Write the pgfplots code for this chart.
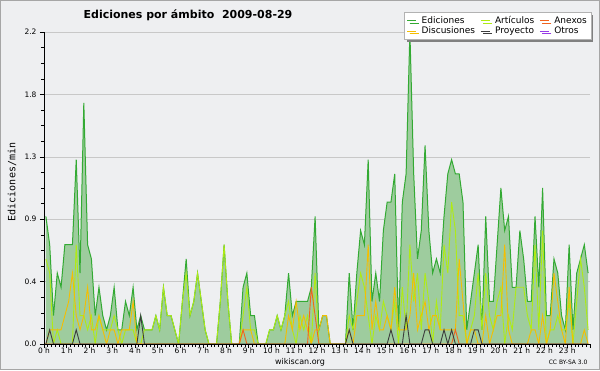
\documentclass[border=0pt]{standalone}
\usepackage{fontspec}
\setmainfont{DejaVu Sans}
\newfontfamily\monofont{DejaVu Sans Mono}
\usepackage{pgfplots}
\usepackage{pgfplotstable}
\pgfplotsset{compat=1.18}
\definecolor{bgc}{RGB}{238,239,241}
\definecolor{edline}{RGB}{51,170,51}
\definecolor{edfill}{RGB}{158,204,158}
\definecolor{artc}{RGB}{175,235,20}
\definecolor{disc}{RGB}{245,190,0}
\definecolor{anex}{RGB}{240,100,30}
\definecolor{proy}{RGB}{60,60,60}
\definecolor{otro}{RGB}{150,60,230}
\definecolor{gridc}{RGB}{200,200,200}
\pgfplotstableread{
i E A D N P O
0 0.9 0.6 0 0 0 0
1 0.7 0.5 0.1 0 0.1 0
2 0.2 0 0.1 0 0 0
3 0.5 0.1 0.1 0 0 0
4 0.4 0 0.1 0 0 0
5 0.7 0 0.2 0 0 0
6 0.7 0 0.3 0 0 0
7 0.7 0 0.5 0 0 0
8 1.3 0.7 0.2 0 0.1 0
9 0.5 0.2 0.1 0 0 0
10 1.7 0.2 0.2 0 0 0
11 0.7 0.1 0.4 0 0 0
12 0.6 0.2 0.1 0 0 0
13 0.2 0 0.1 0 0 0
14 0.4 0.2 0.2 0 0 0
15 0.2 0.1 0.1 0 0 0
16 0.1 0.1 0 0 0 0
17 0.2 0.1 0.1 0 0 0
18 0.4 0.2 0.1 0 0 0
19 0.1 0.1 0 0 0 0
20 0.1 0 0.1 0 0 0
21 0.3 0.1 0.1 0 0 0
22 0.2 0.1 0.1 0 0 0
23 0.4 0.1 0.3 0 0 0
24 0.1 0 0 0 0 0
25 0.2 0 0 0 0.2 0
26 0.1 0.1 0 0 0 0
27 0.1 0.1 0 0 0 0
28 0.1 0.1 0 0 0 0
29 0.2 0.2 0 0 0 0
30 0.1 0.1 0 0 0 0
31 0.4 0.4 0 0 0 0
32 0.2 0.2 0 0 0 0
33 0.2 0.2 0 0 0 0
34 0.1 0.1 0 0 0 0
35 0 0 0 0 0 0
36 0.3 0.3 0 0 0 0
37 0.6 0.5 0 0 0 0
38 0.2 0.2 0 0 0 0
39 0.3 0.3 0 0 0 0
40 0.5 0.5 0 0 0 0
41 0.3 0.3 0 0 0 0
42 0.1 0.1 0 0 0 0
43 0 0 0 0 0 0
44 0 0 0 0 0 0
45 0 0 0 0 0 0
46 0.3 0.3 0 0 0 0
47 0.7 0.7 0 0 0 0
48 0.3 0.3 0 0 0 0
49 0 0 0 0 0 0
50 0 0 0 0 0 0
51 0 0 0 0 0 0
52 0.4 0.2 0.1 0.1 0 0
53 0.5 0.4 0.1 0 0 0
54 0.2 0.1 0.1 0 0 0
55 0.2 0.1 0 0 0 0
56 0 0 0 0 0 0
57 0 0 0 0 0 0
58 0 0 0 0 0 0
59 0.1 0.1 0 0 0 0
60 0.1 0.1 0 0 0 0
61 0.2 0.2 0 0 0 0
62 0.1 0.1 0 0 0 0
63 0.2 0.2 0 0 0 0
64 0.5 0.3 0.2 0 0 0
65 0.2 0.1 0.1 0 0 0
66 0.3 0 0.3 0 0 0
67 0.3 0.2 0.1 0 0 0
68 0.3 0.1 0.2 0 0 0
69 0.3 0.2 0.1 0 0 0
70 0.4 0 0 0.4 0 0
71 0.9 0.5 0.1 0.2 0 0
72 0.1 0 0.1 0 0 0
73 0.2 0 0.2 0 0 0
74 0.2 0 0.2 0 0 0
75 0 0 0 0 0 0
76 0 0 0 0 0 0
77 0 0 0 0 0 0
78 0 0 0 0 0 0
79 0 0 0 0 0 0
80 0.5 0.2 0.1 0 0.1 0
81 0.1 0.1 0 0 0 0
82 0.5 0.3 0.2 0 0 0
83 0.8 0.5 0.2 0 0 0
84 0.7 0.4 0.2 0 0 0
85 1.3 0.2 0.7 0 0 0
86 0.3 0 0.1 0 0 0
87 0.5 0.2 0.3 0 0 0
88 0.3 0.1 0.1 0 0 0
89 0.8 0.3 0.1 0 0 0
90 1.0 0.2 0.2 0 0 0
91 1.0 0.1 0.1 0 0.1 0
92 1.2 0.3 0.4 0 0 0
93 0.1 0 0.1 0 0 0
94 1.0 0.4 0.1 0 0 0
95 1.2 0.1 0.1 0 0.2 0
96 2.2 0.7 0.2 0 0 0
97 1.2 0.3 0.5 0 0 0
98 0.6 0.5 0.1 0 0 0
99 0.8 0.1 0.2 0 0 0
100 1.4 0.5 0.3 0 0.1 0
101 0.8 0.3 0.1 0 0.1 0
102 0.5 0 0.2 0 0 0
103 0.6 0.3 0.2 0 0 0
104 0.5 0.1 0.1 0 0 0
105 0.9 0.7 0.1 0 0.1 0
106 1.2 0.5 0.1 0 0 0
107 1.3 1.0 0.1 0 0.1 0
108 1.2 0.8 0.1 0.1 0 0
109 1.2 0.2 0.6 0 0 0
110 1.0 0.2 0.3 0 0 0
111 0.1 0 0 0 0 0
112 0.3 0.1 0.1 0 0 0
113 0.5 0.2 0.1 0 0.1 0
114 0.7 0.5 0 0 0.1 0
115 0.1 0.1 0 0 0 0
116 0.9 0.5 0.2 0 0 0
117 0.3 0.2 0 0 0 0
118 0.3 0.1 0.1 0 0 0
119 0.7 0.3 0.2 0 0 0
120 1.1 0.4 0.2 0 0 0
121 0.8 0 0.7 0 0 0
122 0.9 0.2 0.1 0 0 0
123 0.4 0.1 0 0 0 0
124 0.4 0.4 0 0 0 0
125 0.8 0.4 0 0 0 0
126 0.6 0.4 0 0 0 0
127 0.3 0.2 0 0 0 0
128 0.3 0.1 0.1 0 0 0
129 0.9 0.7 0.1 0 0 0
130 0.4 0.1 0 0 0 0
131 1.1 0.8 0.2 0 0 0
132 0.2 0 0 0 0 0
133 0.2 0.1 0.1 0 0 0
134 0.6 0.1 0.5 0 0 0
135 0.5 0.2 0.3 0 0 0
136 0.2 0.1 0.1 0 0 0
137 0.1 0.1 0 0 0 0
138 0.7 0.3 0.4 0 0 0
139 0.1 0 0 0 0 0
140 0.5 0.3 0 0 0 0
141 0.6 0.6 0 0 0 0
142 0.7 0.4 0.1 0 0 0
143 0.5 0.1 0 0 0 0
}\data
\begin{document}
\begin{tikzpicture}[x=1pt,y=1pt]
\path[use as bounding box] (0,0) rectangle (600,370);
\fill[bgc] (0,0) rectangle (600,370);
\draw[black!35, line width=1pt] (0.5,0.5) rectangle (599.5,369.5);
\begin{axis}[
  at={(44pt,26pt)}, anchor=south west, scale only axis,
  width=546pt, height=312pt,
  xmin=0, xmax=144, ymin=0, ymax=2.2,
  axis x line*=bottom, axis y line*=left,
  axis line style={-, black, line width=0.8pt},
  xtick={0,6,...,144},
  xticklabels={0 h,1 h,2 h,3 h,4 h,5 h,6 h,7 h,8 h,9 h,10 h,11 h,12 h,13 h,14 h,15 h,16 h,17 h,18 h,19 h,20 h,21 h,22 h,23 h,{}},
  minor x tick num=5,
  ytick={0,0.44,0.88,1.32,1.76,2.2},
  yticklabels={0.0,0.4,0.9,1.3,1.8,2.2},
  minor y tick num=3,
  tick align=outside,
  major tick length=4pt, minor tick length=3pt,
  tick style={black, line width=0.6pt},
  ticklabel style={font=\fontsize{7.5}{9}\selectfont},
  xticklabel style={yshift=3.5pt},
  ymajorgrids, grid style={gridc, line width=0.6pt},
  legend columns=3,
  legend cell align=left,
  legend image code/.code={\draw[#1, line width=1pt] (0pt,0pt) -- (9pt,0pt);},
  legend style={at={(1,1)}, anchor=north east, yshift=20pt, xshift=1pt,
    draw=black!30, fill=white, font=\fontsize{9}{10}\selectfont,
    inner sep=2pt, row sep=-2pt,
    /tikz/every odd column/.append style={column sep=3pt},
    /tikz/every even column/.append style={column sep=3pt},
    preaction={fill=black!50, transform canvas={shift={(2.5pt,-2.5pt)}}}},
]
\addplot[draw=none, fill=edfill, forget plot] table[x expr=\thisrow{i}+0.5, y=E] {\data} \closedcycle;
\addplot[edline, line width=1pt, forget plot] table[x expr=\thisrow{i}+0.5, y=E] {\data};
\addplot[otro, line width=0.9pt, forget plot] table[x expr=\thisrow{i}+0.5, y=O] {\data};
\addplot[artc, line width=0.9pt, forget plot] table[x expr=\thisrow{i}+0.5, y=A] {\data};
\addplot[disc, line width=0.9pt, forget plot] table[x expr=\thisrow{i}+0.5, y=D] {\data};
\addplot[anex, line width=0.9pt, forget plot] table[x expr=\thisrow{i}+0.5, y=N] {\data};
\addplot[proy, line width=0.9pt, forget plot] table[x expr=\thisrow{i}+0.5, y=P] {\data};
\draw[black, line width=0.8pt] (axis description cs:0,0) -- (axis description cs:1,0);
\draw[black, line width=0.8pt] (axis description cs:0,0) -- (axis description cs:0,1);
\addlegendimage{edline}\addlegendentry{Ediciones}
\addlegendimage{artc}\addlegendentry{Artículos}
\addlegendimage{anex}\addlegendentry{Anexos}
\addlegendimage{disc}\addlegendentry{Discusiones}
\addlegendimage{proy}\addlegendentry{Proyecto}
\addlegendimage{otro}\addlegendentry{Otros}
\end{axis}
\node[font=\bfseries\fontsize{11}{13}\selectfont] at (188,355) {Ediciones por ámbito\ \ 2009-08-29};
\node[rotate=90, font=\monofont\fontsize{10}{12}\selectfont] at (12,188) {Ediciones/min};
\node[font=\fontsize{8}{10}\selectfont] at (300,7.5) {wikiscan.org};
\node[anchor=east, font=\fontsize{6}{7}\selectfont] at (591,7.5) {CC BY-SA 3.0};
\end{tikzpicture}
\end{document}
